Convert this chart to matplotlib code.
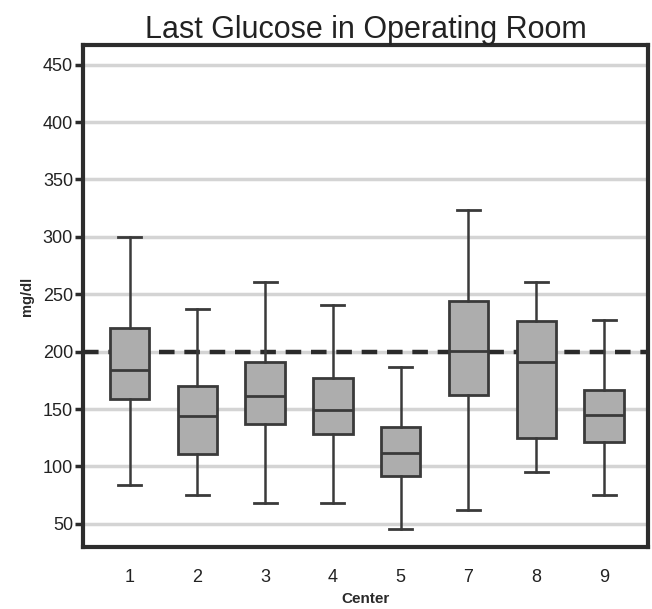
import matplotlib
matplotlib.use('Agg')
from matplotlib import pyplot as plt

plt.rcParams['font.family'] = ['Liberation Sans', 'DejaVu Sans']

# values (mg/dl)
centers = ['1', '2', '3', '4', '5', '7', '8', '9']
whislo = [84, 75, 68, 68, 46, 62, 95, 75]
q1 = [159, 111, 137, 128, 92, 162, 125, 121]
med = [184, 144, 161, 149, 112, 201, 191, 145]
q3 = [221, 170, 191, 177, 134, 244, 227, 167]
whishi = [300, 237, 261, 241, 187, 323, 261, 228]
target = 200

fig = plt.figure(figsize=(6.52, 6.09), dpi=100)
ax = fig.add_axes([0.127, 0.102, 0.867, 0.824])

stats = []
for i in range(len(centers)):
	stats.append(dict(label=centers[i], whislo=whislo[i], q1=q1[i], med=med[i],
					  q3=q3[i], whishi=whishi[i], fliers=[]))

edge = '#3a3a3a'
ax.bxp(stats, positions=range(len(centers)), widths=0.58, patch_artist=True,
	   showfliers=False,
	   boxprops=dict(facecolor='#adadad', edgecolor=edge, linewidth=2),
	   medianprops=dict(color=edge, linewidth=2),
	   whiskerprops=dict(color=edge, linewidth=1.8),
	   capprops=dict(color=edge, linewidth=2),
	   capwidths=0.34, zorder=3)

# grid lines
for v in range(50, 451, 50):
	ax.axhline(v, color='#d4d4d4', lw=2.5, zorder=1)
ax.axhline(target, color='#2a2a2a', lw=3.2, ls=(0, (3.5, 2.2)), zorder=2)

ax.set_xlim(-0.69, 7.65)
ax.set_ylim(30, 467)
ax.set_yticks(range(50, 451, 50))
ax.set_xticks(range(len(centers)))
ax.set_xticklabels(centers)

for s in ax.spines.values():
	s.set_linewidth(3)
	s.set_color('#2c2c2c')

ax.tick_params(axis='y', length=6, width=2.5, color='#2c2c2c', labelsize=13,
			   labelcolor='#222222', pad=1)
ax.tick_params(axis='x', length=0, labelsize=13, labelcolor='#222222', pad=16)

ax.set_title('Last Glucose in Operating Room', fontsize=22, color='#222222', pad=4)
ax.set_xlabel('Center', fontsize=11, fontweight='bold', color='#2a2a2a', labelpad=4)
ax.set_ylabel('mg/dl', fontsize=10.5, fontweight='bold', color='#2a2a2a', labelpad=6)

fig.savefig('out.png', dpi=100)
